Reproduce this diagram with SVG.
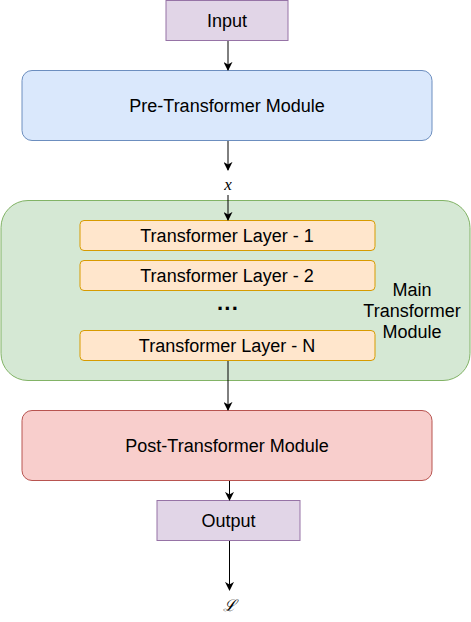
<svg xmlns="http://www.w3.org/2000/svg" width="471" height="622" viewBox="0 0 471 622">
<defs>
<marker id="arr" viewBox="0 0 10 10" refX="9" refY="5" markerWidth="9" markerHeight="9" markerUnits="userSpaceOnUse" orient="auto">
<path d="M0,0 L10,5 L0,10 L3,5 Z" fill="#000"/>
</marker>
</defs>
<style>
text{font-family:"Liberation Sans",Arial,sans-serif;font-size:18px;fill:#000;text-anchor:middle;dominant-baseline:central}
.purple{fill:#e1d5e7;stroke:#9673a6}
.blue{fill:#dae8fc;stroke:#6c8ebf}
.green{fill:#d5e8d4;stroke:#82b366}
.orange{fill:#ffe6cc;stroke:#d79b00}
.red{fill:#f8cecc;stroke:#b85450}
.edge{stroke:#000;stroke-width:1;fill:none;marker-end:url(#arr)}
.math{font-family:"Liberation Serif","DejaVu Serif",serif;font-style:italic}
</style>
<g id="main">
<rect class="green" x="1" y="200.5" width="469" height="180" rx="27"/>
<text x="412" y="290">Main</text>
<text x="412" y="311">Transformer</text>
<text x="412" y="332">Module</text>
</g>
<g id="input"><rect class="purple" x="166" y="0.5" width="122" height="40"/><text x="227" y="20.5">Input</text></g>
<g id="pre"><rect class="blue" x="22" y="70.5" width="410" height="70" rx="10"/><text x="227" y="105.5">Pre-Transformer Module</text></g>
<g id="layer1"><rect class="orange" x="80" y="220.5" width="295" height="30" rx="4"/><text x="227" y="236">Transformer Layer - 1</text></g>
<g id="layer2"><rect class="orange" x="80" y="260.5" width="295" height="30" rx="4"/><text x="227" y="276">Transformer Layer - 2</text></g>
<g id="dots"><text x="228" y="308" style="font-weight:bold;font-size:22px">···</text></g>
<g id="layerN"><rect class="orange" x="80" y="330.5" width="295" height="30" rx="4"/><text x="227" y="346">Transformer Layer - N</text></g>
<g id="post"><rect class="red" x="22" y="410.5" width="410" height="70" rx="10"/><text x="227" y="445.5">Post-Transformer Module</text></g>
<g id="output"><rect class="purple" x="157" y="500.5" width="143" height="40"/><text x="228.5" y="520.5">Output</text></g>
<g id="xlabel"><text class="math" x="228" y="184" style="font-size:17px">x</text></g>
<g id="llabel"><text class="math" x="229" y="605" style="font-size:16px">ℒ</text></g>
<g id="connectors">
<path class="edge" d="M228,41 V70"/>
<path class="edge" d="M228,141 V170"/>
<path class="edge" d="M228,195 V220"/>
<path class="edge" d="M228,361 V410"/>
<path class="edge" d="M229.5,481 V500"/>
<path class="edge" d="M229.5,541 V590"/>
</g>
</svg>
